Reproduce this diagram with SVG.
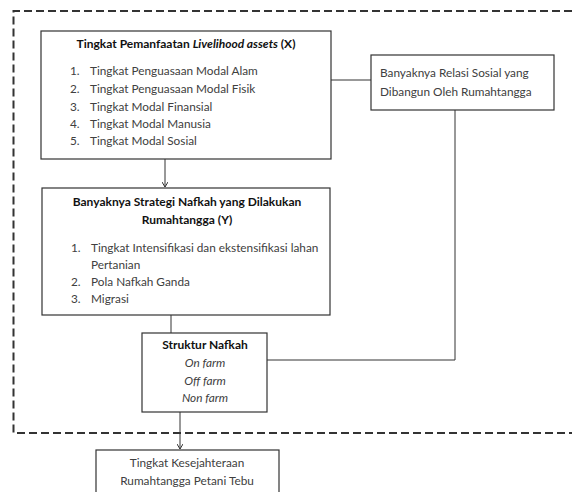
<svg xmlns="http://www.w3.org/2000/svg" width="572" height="492" viewBox="0 0 572 492">
<defs>
<style>
.box{fill:#fff;stroke:#333;stroke-width:1.2}
.ln{fill:none;stroke:#333;stroke-width:1}
.dash{fill:none;stroke:#333;stroke-width:2;stroke-dasharray:8 4}
text{font-family:Lato,"Noto Sans",sans-serif;font-size:11.8px;fill:#404040}
.b{font-weight:bold;fill:#111;font-size:12px}
.i{font-style:italic}
.m{text-anchor:middle}
</style>
<marker id="ah" markerWidth="6" markerHeight="6" refX="5" refY="3" orient="auto" markerUnits="userSpaceOnUse">
<path d="M0,0 L5,3 L0,6" fill="none" stroke="#333" stroke-width="1"/>
</marker>
</defs>
<rect width="572" height="492" fill="#fff"/>
<g id="frame">
<path class="dash" d="M572,11 H13.5 V433 H572"/>
</g>
<g id="connectors">
<line class="ln" x1="165" y1="159" x2="165" y2="187" marker-end="url(#ah)"/>
<line class="ln" x1="331" y1="80" x2="371" y2="80"/>
<polyline class="ln" points="455,110 455,360 267,360"/>
<line class="ln" x1="171" y1="315" x2="171" y2="333"/>
<line class="ln" x1="180" y1="412" x2="180" y2="449" marker-end="url(#ah)"/>
</g>
<g id="node-x">
<rect class="box" x="41" y="31" width="290" height="128"/>
<text class="b m" x="186" y="48">Tingkat Pemanfaatan <tspan class="i">Livelihood assets</tspan> (X)</text>
<text x="70" y="75">1.</text><text x="90" y="75">Tingkat Penguasaan Modal Alam</text>
<text x="70" y="93">2.</text><text x="90" y="93">Tingkat Penguasaan Modal Fisik</text>
<text x="70" y="111">3.</text><text x="90" y="111">Tingkat Modal Finansial</text>
<text x="70" y="128">4.</text><text x="90" y="128">Tingkat Modal Manusia</text>
<text x="70" y="145">5.</text><text x="90" y="145">Tingkat Modal Sosial</text>
</g>
<g id="node-relasi">
<rect class="box" x="371" y="55" width="183" height="55"/>
<text x="380" y="77">Banyaknya Relasi Sosial yang</text>
<text x="380" y="96">Dibangun Oleh Rumahtangga</text>
</g>
<g id="node-y">
<rect class="box" x="42" y="188" width="288" height="127"/>
<text class="b m" x="187" y="206">Banyaknya Strategi Nafkah yang Dilakukan</text>
<text class="b m" x="187" y="224">Rumahtangga (Y)</text>
<text x="71" y="252">1.</text><text x="91" y="252">Tingkat Intensifikasi dan ekstensifikasi lahan</text>
<text x="91" y="269">Pertanian</text>
<text x="71" y="286">2.</text><text x="91" y="286">Pola Nafkah Ganda</text>
<text x="71" y="303">3.</text><text x="91" y="303">Migrasi</text>
</g>
<g id="node-struktur">
<rect class="box" x="142" y="333" width="125" height="79"/>
<text class="b m" x="205" y="349">Struktur Nafkah</text>
<text class="i m" x="205" y="367">On farm</text>
<text class="i m" x="205" y="385">Off farm</text>
<text class="i m" x="205" y="402">Non farm</text>
</g>
<g id="node-kesejahteraan">
<rect class="box" x="96" y="450" width="183" height="60"/>
<text class="m" x="187" y="467">Tingkat Kesejahteraan</text>
<text class="m" x="187" y="485">Rumahtangga Petani Tebu</text>
</g>
</svg>
